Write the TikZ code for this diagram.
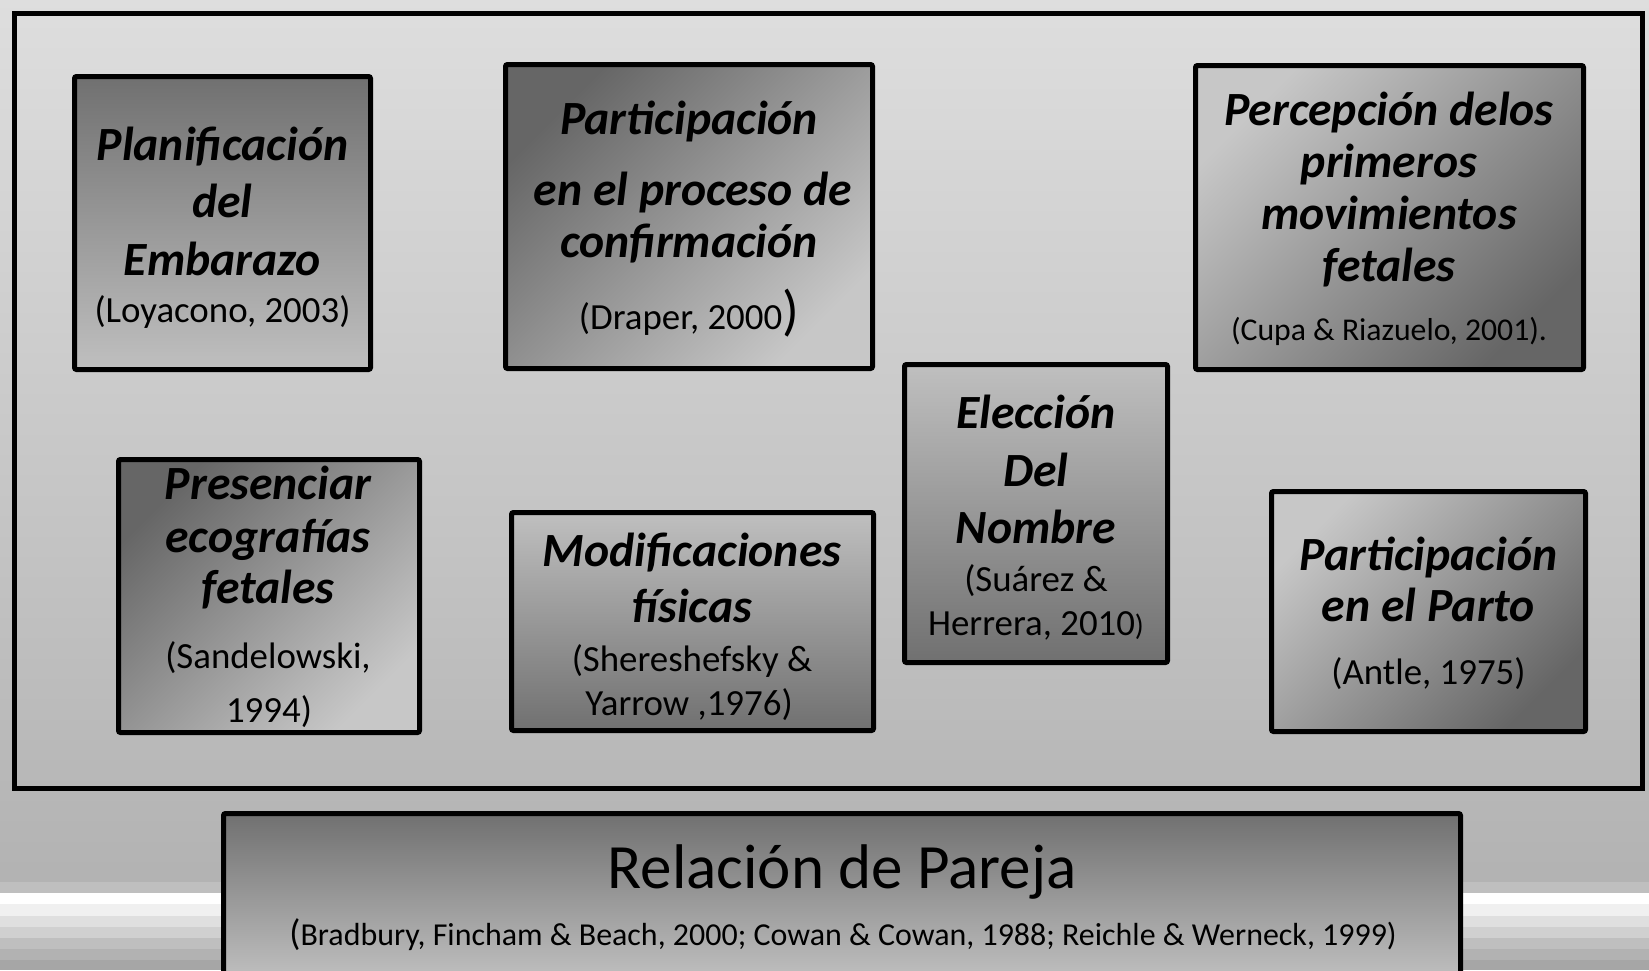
\documentclass[tikz,border=0pt]{standalone}
\usepackage{fontspec}
\setmainfont{Carlito}
\newlength\mylen
\definecolor{bgtop}{gray}{0.87}
\definecolor{bgbot}{gray}{0.70}
\definecolor{gdark}{gray}{0.44}
\definecolor{glight}{gray}{0.75}
\definecolor{ddark}{gray}{0.40}
\definecolor{dlight}{gray}{0.78}
\definecolor{bblight}{gray}{0.79}
\begin{document}%
\settowidth\mylen{\fontsize{10pt}{12pt}\selectfont\bfseries\itshape Participación}%
\pgfmathsetmacro\tsz{10*258/\mylen}%
\settowidth\mylen{\fontsize{10pt}{12pt}\selectfont (Loyacono, 2003)}%
\pgfmathsetmacro\csz{10*256/\mylen}%
\settowidth\mylen{\fontsize{10pt}{12pt}\selectfont (Cupa \& Riazuelo, 2001).}%
\pgfmathsetmacro\usz{10*316/\mylen}%
\settowidth\mylen{\fontsize{10pt}{12pt}\selectfont Relación de Pareja}%
\pgfmathsetmacro\rsz{10*469/\mylen}%
\settowidth\mylen{\fontsize{10pt}{12pt}\selectfont Bradbury, Fincham \& Beach, 2000; Cowan \& Cowan, 1988; Reichle \& Werneck, 1999)}%
\pgfmathsetmacro\bsz{10*1096/\mylen}%
\pgfmathsetmacro\bigp{1.5*\csz}%
\pgfmathsetmacro\smallp{0.8*\csz}%
\pgfmathsetmacro\bigb{1.15*\bsz}%
\begin{tikzpicture}[x=1pt,y=-1pt]
\tikzset{
  box/.style={draw=black, line width=5pt, rounded corners=2pt, inner sep=0pt, outer sep=0pt},
  darktop/.style={top color=gdark, bottom color=glight},
  lighttop/.style={top color=glight, bottom color=gdark},
  darktl/.style={top color=ddark, bottom color=dlight, shading angle=45},
  lighttl/.style={top color=dlight, bottom color=ddark, shading angle=45},
  ttl/.style={anchor=base, inner sep=0pt, font=\fontsize{\tsz pt}{\tsz pt}\selectfont\bfseries\itshape},
  cit/.style={anchor=base, inner sep=0pt, font=\fontsize{\csz pt}{\csz pt}\selectfont},
}
\useasboundingbox (0,0) rectangle (1649,970);
% background
\shade[top color=bgtop, bottom color=bgbot] (0,0) rectangle (1649,882);
\fill[gray!50!white] (0,882) rectangle (1649,893);
\fill[white] (0,893) rectangle (1649,904);
\fill[gray!12!white] (0,904) rectangle (1649,916);
\fill[gray!25!white] (0,916) rectangle (1649,927);
\fill[gray!37!white] (0,927) rectangle (1649,938);
\fill[gray!50!white] (0,938) rectangle (1649,949);
\fill[gray!60!white] (0,949) rectangle (1649,960);
\fill[gray!70!white] (0,960) rectangle (1649,970);
% outer frame
\node[box, rounded corners=0pt, minimum width=1628pt, minimum height=775pt] (frame) at (828.5,401) {};
% boxes
\node[box, darktop, minimum width=296pt, minimum height=293pt] (b1) at (222.5,223) {};
\node[box, darktl, minimum width=367pt, minimum height=304pt] (b2) at (689,216.5) {};
\node[box, lighttl, minimum width=388pt, minimum height=304pt] (b3) at (1389.5,217.5) {};
\node[box, lighttop, minimum width=263pt, minimum height=298pt] (b4) at (1036,513.5) {};
\node[box, darktl, minimum width=301pt, minimum height=273pt] (b5) at (269,596) {};
\node[box, lighttop, minimum width=362pt, minimum height=218pt] (b6) at (692.5,621.5) {};
\node[box, lighttl, minimum width=314pt, minimum height=240pt] (b7) at (1428.5,611.5) {};
\node[box, top color=gdark, bottom color=bblight, minimum width=1237pt, minimum height=186.5pt] (bb) at (842,906.75) {};
% texts box 1
\node[ttl] (t1a) at (222.5,160) {Planificación};
\node[ttl] (t1b) at (222.5,217) {del};
\node[ttl] (t1c) at (222.5,275) {Embarazo};
\node[cit] (c1) at (222.5,322) {(Loyacono, 2003)};
% box 2
\node[ttl] (t2a) at (689,134) {Participación};
\node[ttl] (t2b) at (693,205) {en el proceso de};
\node[ttl] (t2c) at (689,257) {confirmación};
\node[cit] (c2) at (689,329) {(Draper, 2000{\fontsize{\bigp pt}{\bigp pt}\selectfont)}};
% box 3
\node[ttl] (t3a) at (1389,125) {Percepción delos};
\node[ttl] (t3b) at (1389,177) {primeros};
\node[ttl] (t3c) at (1389,229) {movimientos};
\node[ttl] (t3d) at (1389,281.5) {fetales};
\node[anchor=base, inner sep=0pt, font=\fontsize{\usz pt}{\usz pt}\selectfont] (c3) at (1389,340) {(Cupa \& Riazuelo, 2001).};
% box 4
\node[ttl] (t4a) at (1036,428) {Elección};
\node[ttl] (t4b) at (1036,486) {Del};
\node[ttl] (t4c) at (1036,543) {Nombre};
\node[cit] (c4a) at (1036,591) {(Suárez \&};
\node[cit] (c4b) at (1036,635) {Herrera, 2010{\fontsize{\smallp pt}{\smallp pt}\selectfont)}};
% box 5
\node[ttl] (t5a) at (268,499) {Presenciar};
\node[ttl] (t5b) at (268,552) {ecografías};
\node[ttl] (t5c) at (268,603) {fetales};
\node[cit] (c5a) at (268,668) {(Sandelowski,};
\node[cit] (c5b) at (269,722) {1994)};
% box 6
\node[ttl] (t6a) at (692,566) {Modificaciones};
\node[ttl] (t6b) at (692,622.5) {físicas};
\node[cit] (c6a) at (692,671) {(Shereshefsky \&};
\node[cit] (c6b) at (689,715) {Yarrow ,1976)};
% box 7
\node[ttl] (t7a) at (1428.5,570) {Participación};
\node[ttl] (t7b) at (1428.5,621) {en el Parto};
\node[cit] (c7) at (1428.5,684) {(Antle, 1975)};
% bottom box
\node[anchor=base, inner sep=0pt, font=\fontsize{\rsz pt}{\rsz pt}\selectfont] (rel) at (842,888) {Relación de Pareja};
\node[anchor=base, inner sep=0pt, font=\fontsize{\bsz pt}{\bsz pt}\selectfont] (relc) at (843,945) {{\fontsize{\bigb pt}{\bigb pt}\selectfont(}Bradbury, Fincham \& Beach, 2000; Cowan \& Cowan, 1988; Reichle \& Werneck, 1999)};
\end{tikzpicture}
\end{document}
